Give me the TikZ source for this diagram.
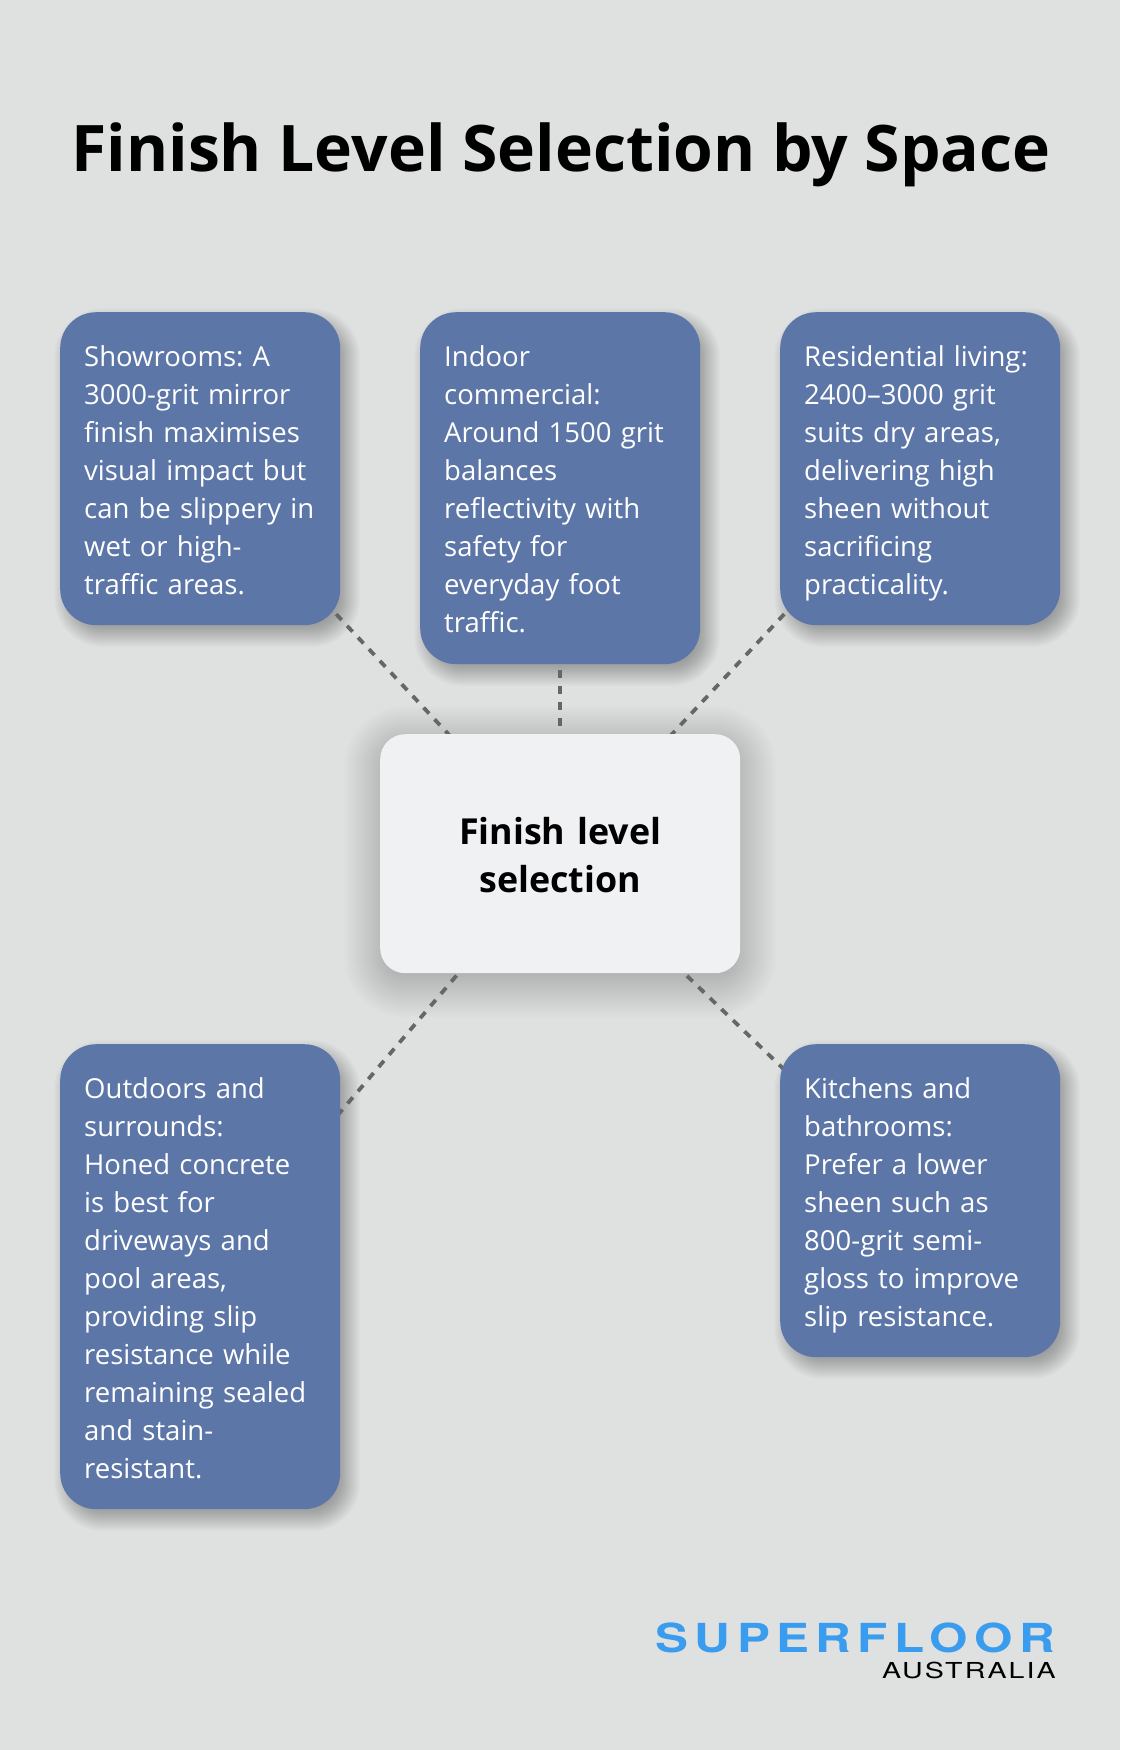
\documentclass[tikz,border=0pt]{standalone}
\usepackage{fontspec}
\setmainfont{Open Sans}
\newfontfamily\logofont[FakeStretch=1.235,LetterSpace=16]{TeX Gyre Heros Bold}
\newfontfamily\logosub[FakeStretch=1.3,LetterSpace=9.5]{TeX Gyre Heros}
\usetikzlibrary{calc}
\pgfdeclarelayer{shadowlayer}
\pgfdeclarelayer{linelayer}
\pgfsetlayers{shadowlayer,linelayer,main}
\definecolor{pagebg}{HTML}{DFE1E0}
\definecolor{cardblue}{HTML}{5D76A8}
\definecolor{centrefill}{HTML}{F0F1F3}
\definecolor{dashgrey}{HTML}{666666}
\definecolor{logoblue}{HTML}{399CEE}
\newcommand{\cardtop}{\rule{0pt}{32pt}}
\newcommand{\cardbot}{\rule[-9pt]{0pt}{9pt}}
\newcommand{\hubtop}{\rule{0pt}{34pt}}
\newcommand{\hubbot}{\rule[-5pt]{0pt}{5pt}}
\tikzset{
  card/.style={rectangle,rounded corners=36pt,fill=cardblue,text=white,anchor=north west,
    minimum width=280pt,inner sep=0pt,text width=232pt,align=left,
    font={\fontsize{27.5}{38}\selectfont\frenchspacing},
    execute at begin node=\cardtop,execute at end node=\cardbot},
  hub/.style={rectangle,rounded corners=25pt,fill=centrefill,text=black,anchor=north west,
    minimum width=360pt,minimum height=239pt,inner sep=0pt,text width=360pt,align=center,
    font={\fontsize{35.8}{48}\selectfont\bfseries},
    execute at begin node=\hubtop,execute at end node=\hubbot},
  link/.style={draw=dashgrey,line width=3.8pt,dash pattern=on 8pt off 8pt},
}
% #1 node, #2 radius, #3 dx, #4 dy, #5 spread list, #6 opacity
\newcommand{\softshadow}[6]{%
  \foreach \i in {#5}{%
    \pgfmathsetmacro{\rr}{max(#2+\i,4)}%
    \fill[black,opacity=#6,rounded corners=\rr pt]
      ($(#1.north west)+(#3-\i,#4-\i)$) rectangle ($(#1.south east)+(#3+\i,#4+\i)$);
  }}
\begin{document}
\begin{tikzpicture}[x=1pt,y=-1pt]
\useasboundingbox (0,0) rectangle (1120,1750);
\begin{pgfonlayer}{shadowlayer}
\fill[pagebg] (0,0) rectangle (1120,1750);
\end{pgfonlayer}
\node[anchor=base,font={\fontsize{64.2}{80}\selectfont\bfseries}] (title) at (561,171) {Finish Level Selection by Space};
\node[card,minimum height=313pt] (show) at (60,312) {Showrooms: A\\3000-grit mirror\\finish maximises\\visual impact but\\can be slippery in\\wet or high-\\traffic areas.};
\node[card,minimum height=352pt] (indoor) at (420,312) {Indoor\\commercial:\\Around 1500 grit\\balances\\reflectivity with\\safety for\\everyday foot\\traffic.};
\node[card,minimum height=313pt] (resi) at (780,312) {Residential living:\\2400–3000 grit\\suits dry areas,\\delivering high\\sheen without\\sacrificing\\practicality.};
\node[hub] (hubnode) at (380,734) {Finish level\\selection};
\node[card,minimum height=465pt] (outdoor) at (60,1044) {Outdoors and\\surrounds:\\Honed concrete\\is best for\\driveways and\\pool areas,\\providing slip\\resistance while\\remaining sealed\\and stain-\\resistant.};
\node[card,minimum height=313pt] (kitchen) at (780,1044) {Kitchens and\\bathrooms:\\Prefer a lower\\sheen such as\\800-grit semi-\\gloss to improve\\slip resistance.};
\node[anchor=base east,text=logoblue,inner sep=0pt,font={\logofont\fontsize{40}{40}\selectfont}] (logoa) at (1055,1652) {SUPERFLOOR};
\node[anchor=base east,text=black,inner sep=0pt,font={\logosub\fontsize{22}{22}\selectfont}] (logob) at (1056,1678) {AUSTRALIA};
\begin{pgfonlayer}{shadowlayer}
\softshadow{hubnode}{25}{0}{8}{-36,-34,...,36}{0.006}
\softshadow{show}{36}{7}{9}{-13,-12,...,13}{0.01}
\softshadow{indoor}{36}{7}{9}{-13,-12,...,13}{0.01}
\softshadow{resi}{36}{7}{9}{-13,-12,...,13}{0.01}
\softshadow{outdoor}{36}{7}{9}{-13,-12,...,13}{0.01}
\softshadow{kitchen}{36}{7}{9}{-13,-12,...,13}{0.01}
\end{pgfonlayer}
\begin{pgfonlayer}{linelayer}
\draw[link] (hubnode.center) -- (show.center);
\draw[link] (hubnode.center) -- (indoor.center);
\draw[link] (hubnode.center) -- (resi.center);
\draw[link] (hubnode.center) -- (outdoor.center);
\draw[link] (hubnode.center) -- (kitchen.center);
\end{pgfonlayer}
\end{tikzpicture}
\end{document}
